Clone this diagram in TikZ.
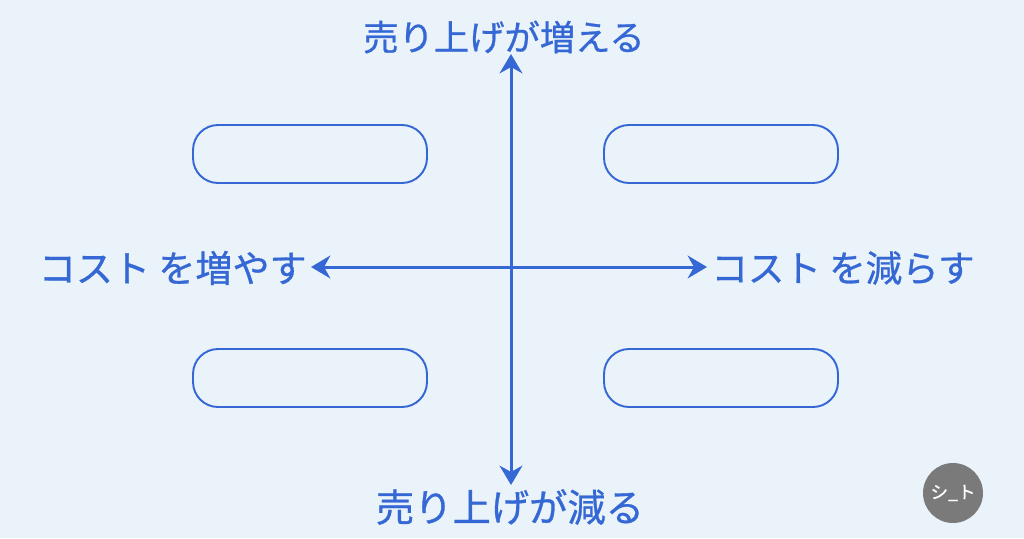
\documentclass[tikz,border=0pt]{standalone}
\usepackage{fontspec}
\setmainfont{Noto Sans CJK JP}[FakeBold=0.8]
\usepackage{xcolor}
\usetikzlibrary{arrows.meta}

\definecolor{axisblue}{HTML}{3568D4}
\definecolor{bgblue}{HTML}{EAF3FA}
\definecolor{logogray}{HTML}{7A7A7A}

\begin{document}
\begin{tikzpicture}[x=0.02cm, y=-0.02cm,
        axis/.style={{Stealth[length=11pt, width=13pt]}-{Stealth[length=11pt, width=13pt]}, line width=1.7pt, axisblue},
        slot/.style={draw=axisblue, line width=1.1pt, rounded corners=0.5cm, minimum width=4.68cm, minimum height=1.16cm},
        label/.style={text=axisblue, inner sep=0pt}]
        \fill[bgblue] (0,0) rectangle (1024,538);
        \useasboundingbox (0,0) rectangle (1024,538);

        \coordinate (Top) at (511, 54);
        \coordinate (Bottom) at (511, 485);
        \coordinate (Left) at (311, 267);
        \coordinate (Right) at (707, 267);

        % labels
        \node[label, font=\fontsize{20.1}{24}\selectfont] (Up) at (504, 37) {売り上げが増える};
        \node[label, font=\fontsize{21.8}{26}\selectfont] (Down) at (510, 507) {売り上げが減る};
        \node[label, font=\fontsize{21.1}{25}\selectfont, anchor=east] (More) at (307, 268) {コスト を増やす};
        \node[label, font=\fontsize{20.8}{25}\selectfont, anchor=west] (Less) at (711, 268) {コスト を減らす};

        % quadrant boxes
        \node[slot] (TL) at (310, 154) {};
        \node[slot] (TR) at (721, 154) {};
        \node[slot] (BL) at (310, 378) {};
        \node[slot] (BR) at (721, 378) {};

        \draw[axis] (Bottom) -- (Top);
        \draw[axis] (Left) -- (Right);

        \node[circle, fill=logogray, minimum size=1.2cm, inner sep=0pt, text=white, font=\fontsize{10}{12}\selectfont] (Logo) at (953, 493) {シ\_ト};
\end{tikzpicture}
\end{document}
